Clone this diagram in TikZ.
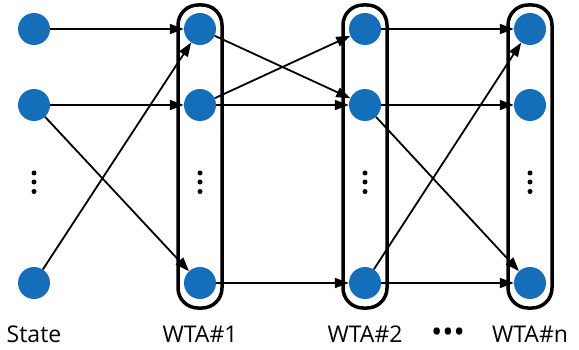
\documentclass[tikz,border=0pt]{standalone}
\usepackage{fontspec}
\setmainfont{Open Sans}
\usetikzlibrary{arrows.meta}
\definecolor{nodeblue}{RGB}{20,110,185}
\tikzset{
  neuron/.style={circle, fill=nodeblue, draw=none, minimum size=32pt, inner sep=0pt},
  wtabox/.style={draw=black, line width=3.5pt, rounded corners=20pt, minimum width=44pt, minimum height=303pt, inner sep=0pt},
  conn/.style={line width=1.8pt, -{Triangle[length=14pt,width=10pt]}},
  vdot/.style={circle, fill=black, minimum size=5pt, inner sep=0pt},
  lbl/.style={anchor=base, font=\fontsize{23}{27}\selectfont, inner sep=0pt}
}
\begin{document}
\begin{tikzpicture}[x=1pt,y=-1pt]
\useasboundingbox (0,0) rectangle (579,350);
% boxes
\node[wtabox] (b1) at (200,156.5) {};
\node[wtabox] (b2) at (365,156.5) {};
\node[wtabox] (bn) at (530,156.5) {};
% neurons
\node[neuron] (s1) at (34,29) {};
\node[neuron] (s2) at (34,105) {};
\node[neuron] (s3) at (34,283) {};
\node[neuron] (a1) at (200,29) {};
\node[neuron] (a2) at (200,105) {};
\node[neuron] (a3) at (200,283) {};
\node[neuron] (c1) at (365,29) {};
\node[neuron] (c2) at (365,105) {};
\node[neuron] (c3) at (365,283) {};
\node[neuron] (n1) at (530,29) {};
\node[neuron] (n2) at (530,105) {};
\node[neuron] (n3) at (530,283) {};
% vertical dots
\foreach \x/\k in {34/s,200/a,365/c,530/n}{
  \node[vdot] (\k d1) at (\x,173) {};
  \node[vdot] (\k d2) at (\x,182) {};
  \node[vdot] (\k d3) at (\x,191.5) {};
}
% connections
\draw[conn] (s1) -- (a1);
\draw[conn] (s2) -- (a2);
\draw[conn] (s2) -- (a3);
\draw[conn] (s3) -- (a1);
\draw[conn] (a1) -- (c2);
\draw[conn] (a2) -- (c1);
\draw[conn] (a2) -- (c2);
\draw[conn] (a3) -- (c3);
\draw[conn] (c1) -- (n1);
\draw[conn] (c2) -- (n2);
\draw[conn] (c2) -- (n3);
\draw[conn] (c3) -- (n1);
\draw[conn] (c3) -- (n3);
% labels
\node[lbl] (lstate) at (34,342) {State};
\node[lbl] (l1) at (200,342) {WTA\#1};
\node[lbl] (l2) at (365,342) {WTA\#2};
\node[lbl, font=\fontsize{30}{32}\selectfont] (ldots) at (448,342) {•••};
\node[lbl] (ln) at (530,342) {WTA\#n};
\end{tikzpicture}
\end{document}
